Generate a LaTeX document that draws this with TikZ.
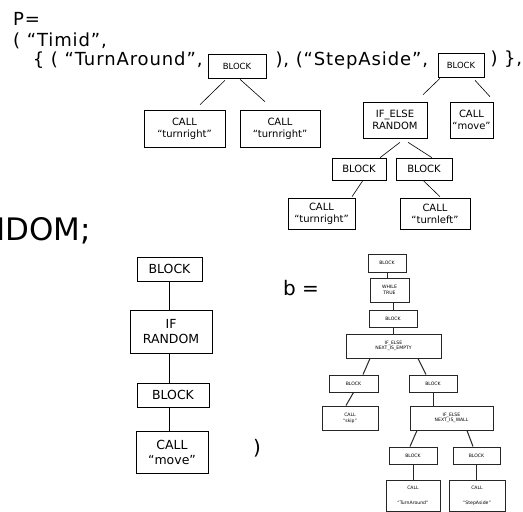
\documentclass[tikz,border=0pt]{standalone}
\usepackage{fontspec}
\setmainfont{DejaVu Sans}
\newfontfamily\codefont[LetterSpace=5]{DejaVu Sans}
\usetikzlibrary{
calc,
positioning,
}
\tikzset{
every node/.style={align=center},
wh/.style 2 args={minimum width=#1, minimum height=#2},
box/.style={rectangle, draw, inner sep=0pt, line width=0.6pt, font=\fontsize{10}{12}\selectfont},
smallbox/.style={box, font=\fontsize{8.5}{10}\selectfont},
midbox/.style={box, line width=0.8pt, font=\fontsize{12.5}{15}\selectfont},
tinybox/.style={box, draw=black!85, line width=1pt, font=\fontsize{4.6}{5.6}\selectfont},
code/.style={inner sep=0pt, font=\codefont\fontsize{18}{22}\selectfont},
link/.style={line width=0.6pt},
midlink/.style={line width=0.8pt},
tinylink/.style={draw=black!85, line width=1pt},
}

\begin{document}
\begin{tikzpicture}[x=1pt, y=-1pt]
    \useasboundingbox[fill=white] (0,0) rectangle (523,512);

    % P = ( name, { (label, tree), (label, tree) } )
    \node [code, anchor=base west] (pHead) at (13,25) {P=};
    \node [code, anchor=base west] (pName) at (13,46) {( “Timid”,};
    \node [smallbox, wh={58}{24}] (blkA) at (237,66) {BLOCK};
    \node [smallbox, wh={46}{24}] (blkB) at (461,65) {BLOCK};
    \node [code, left=5pt of blkA, anchor=base east, yshift=1pt] (pTurn) {\{ ( “TurnAround”,};
    \node [code, right=9pt of blkA, anchor=base west, yshift=1pt] (pStep) {), (“StepAside”,};
    \node [code, right=6pt of blkB, anchor=base west, yshift=1pt] (pEnd) {) \},};

    % first tree
    \node [box, wh={81}{37}] (callA) at (184.5,128.5) {CALL\\“turnright”};
    \node [box, wh={80}{37}] (callB) at (280,128.5) {CALL\\“turnright”};

    % second tree
    \node [box, wh={64}{36}] (ifRnd) at (395,120) {IF\_ELSE\\RANDOM};
    \node [box, wh={43}{36}] (callMv) at (471.5,120) {CALL\\“move”};
    \node [box, wh={54}{22}] (blkC) at (359,169) {BLOCK};
    \node [box, wh={56}{22}] (blkD) at (424,169) {BLOCK};
    \node [box, wh={67}{31}] (callR) at (321.5,213.5) {CALL\\“turnright”};
    \node [box, wh={70}{31}] (callL) at (435,213.5) {CALL\\“turnleft”};

    \draw [link] ($(blkA.south)+(-12,2)$) -- ($(callA.north)+(15.5,-5)$);
    \draw [link] ($(blkA.south)+(3,1)$) -- ($(callB.north)+(-15,-8)$);
    \draw [link] ($(blkB.south)+(-21,1)$) -- ($(ifRnd.north)+(28,-7)$);
    \draw [link] ($(blkB.south)+(14,3)$) -- ($(callMv.north)+(18.5,-5)$);
    \draw [link] ($(ifRnd.south)+(5,4)$) -- ($(blkC.north)+(21,0)$);
    \draw [link] ($(ifRnd.south)+(13,4)$) -- ($(blkD.north)+(8,0)$);
    \draw [link] ($(blkC.south)+(4,0)$) -- ($(callR.north)+(30.5,-1)$);
    \draw [link] ($(blkD.south)+(-1,0)$) -- ($(callL.north)+(5,-1)$);

    \node [code, font=\fontsize{31}{36}\selectfont, anchor=base east] (rnd) at (91,240) {NDOM;};

    % the single-branch tree
    \node [midbox, wh={65}{24}] (mBlk) at (169.5,269) {BLOCK};
    \node [midbox, wh={82}{43}] (mIf) at (171,331.5) {IF\\RANDOM};
    \node [midbox, wh={72}{24}] (mBlk2) at (173,395) {BLOCK};
    \node [midbox, wh={72}{42}] (mCall) at (172,452) {CALL\\“move”};

    \draw [midlink] (mBlk.south) -- (mBlk.south |- mIf.north);
    \draw [midlink] (mIf.south -| mBlk) -- (mBlk |- mBlk2.north);
    \draw [midlink] (mBlk2.south -| mBlk) -- (mBlk |- mCall.north);

    \node [code, font=\fontsize{20}{24}\selectfont, anchor=base west] (bEq) at (283,295) {b =};
    \node [code, font=\fontsize{20}{24}\selectfont, anchor=base west] (close) at (253,454) {)};

    % b, drawn small
    \node [tinybox, wh={38}{18}] (bBlk) at (387,263) {BLOCK};
    \node [tinybox, wh={39}{24}] (bWhile) at (389.5,290) {WHILE\\TRUE};
    \node [tinybox, wh={48}{17}] (bBlk2) at (393,318.5) {BLOCK};
    \node [tinybox, wh={95}{24}] (bIfE) at (393.5,346) {IF\_ELSE\\NEXT\_IS\_EMPTY};
    \node [tinybox, wh={49}{17}] (bBlkL) at (353.5,383.5) {BLOCK};
    \node [tinybox, wh={48}{17}] (bBlkR) at (433,383.5) {BLOCK};
    \node [tinybox, wh={56}{24}] (bSkip) at (350,418) {CALL\\“skip”};
    \node [tinybox, wh={83}{24}] (bIfW) at (451.5,418) {IF\_ELSE\\NEXT\_IS\_WALL};
    \node [tinybox, wh={48}{17}] (bBlkL2) at (413,455.5) {BLOCK};
    \node [tinybox, wh={47}{17}] (bBlkR2) at (476.5,455.5) {BLOCK};
    \node [tinybox, wh={54}{31}] (bTurn) at (413,495.5) {CALL\\[9pt]“TurnAround”};
    \node [tinybox, wh={56}{31}] (bStep) at (477,495.5) {CALL\\[9pt]“StepAside”};

    \draw [tinylink] (bBlk.south) -- (bBlk.south |- bWhile.north);
    \draw [tinylink] (bWhile.south -| bBlk2) -- (bBlk2.north);
    \draw [tinylink] (bBlk2.south) -- (bBlk2.south |- bIfE.north);
    \draw [tinylink] ($(bIfE.south)+(-23.5,0)$) -- ($(bBlkL.north)+(9.5,0)$);
    \draw [tinylink] ($(bIfE.south)+(24.5,0)$) -- ($(bBlkR.north)+(-7,0)$);
    \draw [tinylink] (bBlkL.south) -- ($(bSkip.north)+(-4,0)$);
    \draw [tinylink] (bBlkR.south) -- (bBlkR.south |- bIfW.north);
    \draw [tinylink] ($(bIfW.south)+(-34.5,0)$) -- ($(bBlkL2.north)+(-3,0)$);
    \draw [tinylink] ($(bIfW.south)+(15.5,0)$) -- ($(bBlkR2.north)+(-3.5,0)$);
    \draw [tinylink] (bBlkL2.south) -- (bBlkL2.south |- bTurn.north);
    \draw [tinylink] (bBlkR2.south) -- (bBlkR2.south |- bStep.north);
\end{tikzpicture}
\end{document}
